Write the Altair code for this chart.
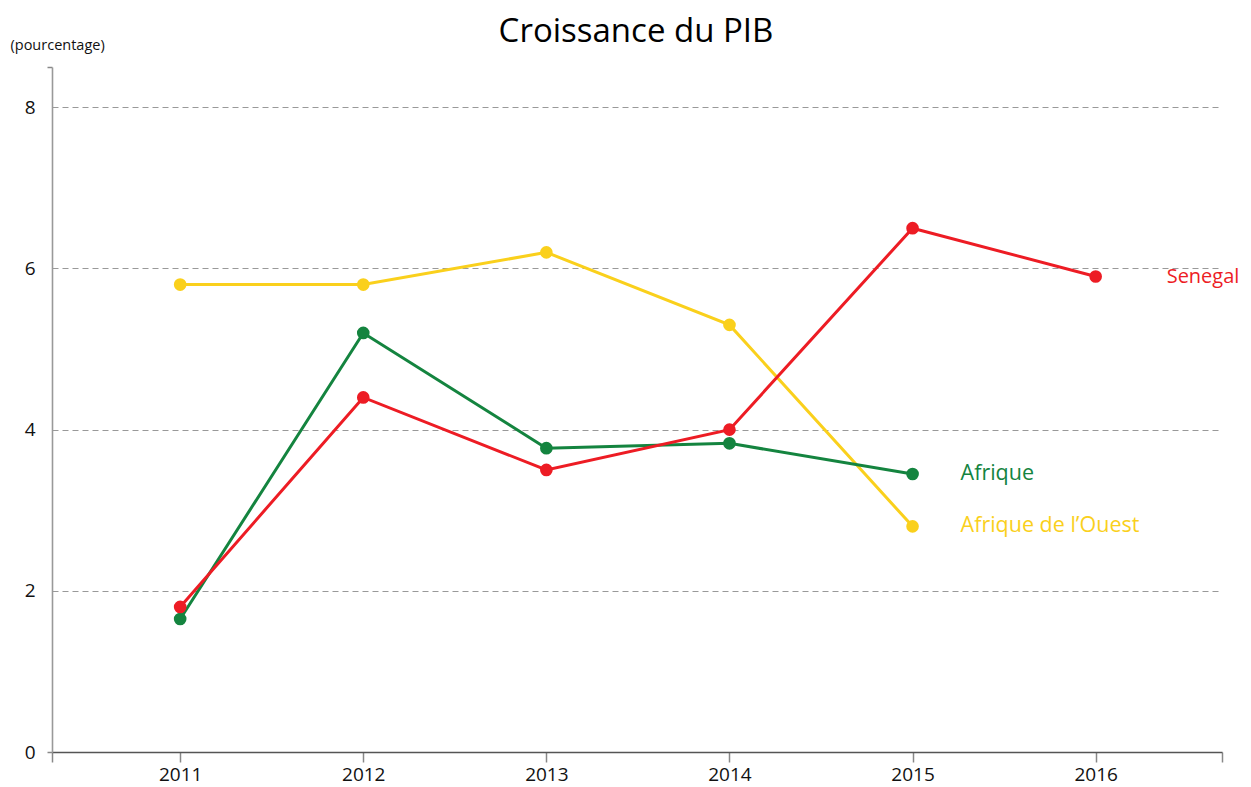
import altair as alt
import pandas as pd

title_text = "Croissance du PIB"
years = [2011, 2012, 2013, 2014, 2015, 2016]
senegal = [1.8, 4.4, 3.5, 4.0, 6.5, 5.9]
afrique = [1.65, 5.2, 3.77, 3.83, 3.45]
afrique_ouest = [5.8, 5.8, 6.2, 5.3, 2.8]

series_names = ["Afrique de l’Ouest", "Afrique", "Senegal"]
series_values = [afrique_ouest, afrique, senegal]
series_colors = ["#FAD01C", "#14843F", "#ED1C24"]
label_dx = [48, 48, 71]
label_size = [21.5, 21.5, 20]

y_ticks = [0, 2, 4, 6, 8]
x_ticks = years

FONT = "Open Sans"
X_DOMAIN = [2010.3, 2016.69]
Y_DOMAIN = [0, 8.5]
W, H = 1170, 685

rows = []
for name, vals in zip(series_names, series_values):
    for yr, v in zip(years, vals):
        rows.append({"serie": name, "annee": yr, "valeur": v})
df = pd.DataFrame(rows)

x_axis = alt.Axis(
    values=[X_DOMAIN[0]] + x_ticks + [X_DOMAIN[1]],
    labelExpr="datum.value % 1 == 0 ? format(datum.value, 'd') : ''",
    title=None,
    grid=False,
    domainColor="#555555",
    domainWidth=1.6,
    tickColor="#888888",
    tickWidth=1.5,
    tickSize=10,
    labelFont=FONT,
    labelFontSize=19,
    labelColor="#111111",
    labelPadding=3,
)

y_axis = alt.Axis(
    values=y_ticks + [Y_DOMAIN[1]],
    labelExpr="datum.value <= 8 ? format(datum.value, 'd') : ''",
    title="(pourcentage)",
    titleAngle=0,
    titleAlign="left",
    titleBaseline="middle",
    titleX=-42,
    titleY=-22,
    titleFont=FONT,
    titleFontSize=14.5,
    titleFontWeight="normal",
    titleColor="#111111",
    grid=True,
    gridDash=[6, 4],
    gridWidth=1.2,
    gridColor={"condition": {"test": "datum.value == 0 || datum.value > 8", "value": "transparent"}, "value": "#999999"},
    tickColor={"condition": {"test": "datum.value == 0 || datum.value > 8", "value": "#888888"}, "value": "transparent"},
    tickSize=5,
    tickWidth=1.5,
    domainColor="#999999",
    domainWidth=1.6,
    labelFont=FONT,
    labelFontSize=19,
    labelColor="#111111",
    labelPadding=12,
)

x_enc = alt.X("annee:Q", scale=alt.Scale(domain=X_DOMAIN, nice=False, zero=False), axis=x_axis)
y_enc = alt.Y("valeur:Q", scale=alt.Scale(domain=Y_DOMAIN, nice=False), axis=y_axis)

base = alt.Chart(df)
layers = []
for name, vals, col, dx, fs in zip(series_names, series_values, series_colors, label_dx, label_size):
    sub = base.transform_filter(alt.datum.serie == name)
    last_year = years[len(vals) - 1]
    line = sub.mark_line(color=col, strokeWidth=3).encode(x=x_enc, y=y_enc)
    pts = sub.mark_circle(color=col, size=160, opacity=1).encode(x=x_enc, y=y_enc)
    txt = sub.transform_filter(alt.datum.annee == last_year).mark_text(
        color=col, align="left", baseline="middle", dx=dx, font=FONT, fontSize=fs
    ).encode(x=x_enc, y=y_enc, text="serie:N")
    layers += [line, pts, txt]

title_layer = alt.Chart(pd.DataFrame({"t": [title_text]})).mark_text(
    font=FONT, fontSize=33, color="#000000", align="center", baseline="alphabetic"
).encode(text="t:N", x=alt.value(W / 2 - 1), y=alt.value(-25))
layers.append(title_layer)

chart = alt.layer(*layers).properties(
    width=W,
    height=H,
    autosize=alt.AutoSizeParams(type="none"),
    padding={"left": 44, "top": 59, "right": 21, "bottom": 35},
).configure_view(stroke=None)

chart.save("out.html", embed_options={"renderer": "svg", "actions": False})
